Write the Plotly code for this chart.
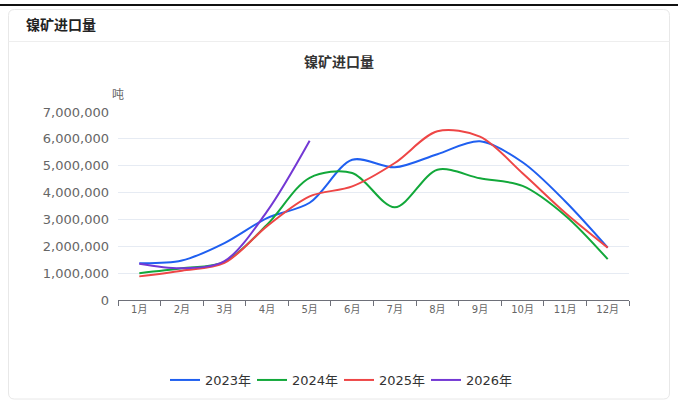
import plotly.graph_objects as go

months = ["1月", "2月", "3月", "4月", "5月", "6月", "7月", "8月", "9月", "10月", "11月", "12月"]
y2023 = [1370000, 1470000, 2120000, 3050000, 3620000, 5220000, 4940000, 5430000, 5910000, 5130000, 3680000, 1950000]
y2024 = [1000000, 1180000, 1420000, 2800000, 4550000, 4730000, 3450000, 4850000, 4530000, 4250000, 3150000, 1520000]
y2025 = [880000, 1090000, 1380000, 2750000, 3860000, 4230000, 5100000, 6280000, 6080000, 4720000, 3250000, 1950000]
y2026 = [1350000, 1180000, 1450000, 3300000, 5930000]
series_names = ["2023年", "2024年", "2025年", "2026年"]
colors = ["#1f5ff0", "#12a83a", "#ee4646", "#7338d4"]

W, H = 678, 401
L, R, T, B = 118, 629, 112, 300
FONT = "Noto Sans CJK SC, Noto Sans, sans-serif"
NUMFONT = "DejaVu Sans, Noto Sans CJK SC, sans-serif"


def px(x):
    return (x - L) / (R - L)


def py(y):
    return (B - y) / (B - T)


fig = go.Figure()
for name, vals, c in zip(series_names, [y2023, y2024, y2025, y2026], colors):
    fig.add_trace(go.Scatter(
        x=months[:len(vals)], y=vals, name=name, mode="lines",
        line=dict(color=c, width=2, shape="spline", smoothing=0.9),
    ))

# card path with rounded corners
x0, x1, y0, y1, r = 8.5, 669.5, 9.5, 399, 6
card = (f"M {px(x0+r)},{py(y0)} L {px(x1-r)},{py(y0)} Q {px(x1)},{py(y0)} {px(x1)},{py(y0+r)} "
        f"L {px(x1)},{py(y1-r)} Q {px(x1)},{py(y1)} {px(x1-r)},{py(y1)} "
        f"L {px(x0+r)},{py(y1)} Q {px(x0)},{py(y1)} {px(x0)},{py(y1-r)} "
        f"L {px(x0)},{py(y0+r)} Q {px(x0)},{py(y0)} {px(x0+r)},{py(y0)} Z")

shapes = [
    dict(type="line", xref="paper", yref="paper", x0=px(0), x1=px(W), y0=py(5), y1=py(5),
         line=dict(color="#111111", width=2), layer="above"),
    dict(type="path", xref="paper", yref="paper", path=card,
         line=dict(color="#e8e8e8", width=1), fillcolor="rgba(0,0,0,0)", layer="below"),
    dict(type="line", xref="paper", yref="paper", x0=px(x0), x1=px(x1), y0=py(41.5), y1=py(41.5),
         line=dict(color="#eeeeee", width=1), layer="below"),
]

annotations = [
    dict(text="<b>镍矿进口量</b>", xref="paper", yref="paper", x=px(24), y=py(24),
         xanchor="left", yanchor="middle", showarrow=False,
         font=dict(family=FONT, size=14, color="#222222")),
    dict(text="<b>镍矿进口量</b>", xref="paper", yref="paper", x=px(339), y=py(61),
         xanchor="center", yanchor="middle", showarrow=False,
         font=dict(family=FONT, size=14, color="#333333")),
    dict(text="吨", xref="paper", yref="paper", x=px(118), y=py(93),
         xanchor="center", yanchor="middle", showarrow=False,
         font=dict(family=FONT, size=12, color="#666666")),
]

fig.update_layout(
    width=W, height=H,
    margin=dict(l=L, r=W - R, t=T, b=H - B, autoexpand=False),
    paper_bgcolor="white", plot_bgcolor="white",
    font=dict(family=FONT, color="#666666"),
    shapes=shapes, annotations=annotations,
    showlegend=True,
    legend=dict(orientation="h", x=px(339), xanchor="center", y=py(380), yanchor="middle",
                font=dict(family=NUMFONT, size=13, color="#333333"), itemwidth=30,
                entrywidth=42, entrywidthmode="pixels",
                bgcolor="rgba(0,0,0,0)", traceorder="normal"),
)
fig.update_xaxes(
    type="category", categoryorder="array", categoryarray=months,
    range=[-0.5, 11.5], showgrid=False, showline=True, linecolor="#6e7079", linewidth=1,
    ticks="outside", tickson="boundaries", ticklen=5, tickcolor="#6e7079",
    tickfont=dict(family=NUMFONT, size=10, color="#666666"), fixedrange=True, zeroline=False,
)
fig.update_yaxes(
    range=[0, 7000000], dtick=1000000, tickformat=",", showgrid=True, gridcolor="#e6ebf3",
    gridwidth=1, showline=False, zeroline=False, ticks="", ticklabelstandoff=8,
    tickfont=dict(family=NUMFONT, size=13, color="#666666"), fixedrange=True,
)

fig.write_html("out.html", config={"displayModeBar": False},
               post_script="document.body.style.margin='0px';document.body.style.padding='0px';")
